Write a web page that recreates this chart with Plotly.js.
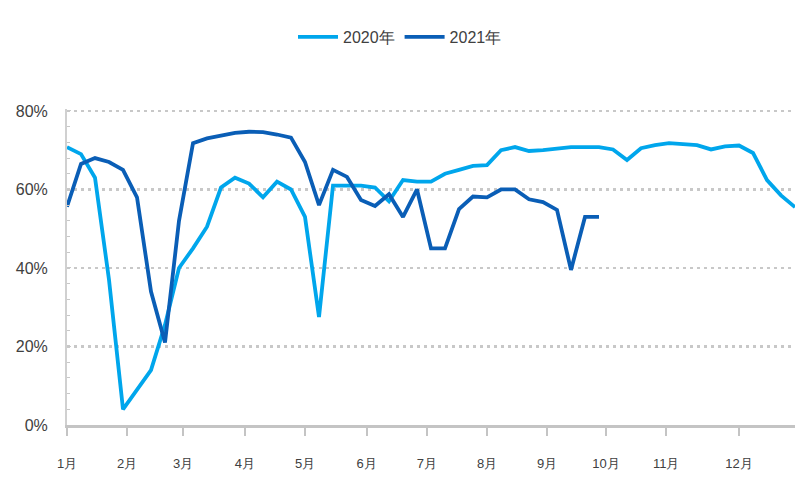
<!DOCTYPE html>
<html>
<head>
<meta charset="utf-8">
<script src="https://cdn.plot.ly/plotly-3.0.1.min.js"></script>
<style>html,body{margin:0;padding:0;background:#fff;}#chart{width:800px;height:500px;}</style>
</head>
<body>
<div id="chart"></div>
<script>
const seriesNames = ['2020年', '2021年'];
const monthLabels = ['1月','2月','3月','4月','5月','6月','7月','8月','9月','10月','11月','12月'];
const monthTickWeeks = [0, 4.3, 8.3, 12.7, 17, 21.4, 25.7, 30, 34.3, 38.5, 42.8, 48];
const rate2020 = [70.8, 69, 63, 37, 4, 9, 14, 25.5, 40, 45, 50.5, 60.5, 63, 61.5, 58, 62, 60, 53, 27.5, 61,
  61, 61, 60.5, 57, 62.4, 62, 62, 64, 65, 66, 66.2, 70, 70.8, 69.8, 70, 70.5, 70.8, 70.8, 70.8, 70.2,
  67.5, 70.5, 71.3, 71.8, 71.5, 71.3, 70.2, 71, 71.2, 69.3, 62.4, 58.5, 55.5];
const rate2021 = [55.6, 66.5, 68, 67, 65, 58, 34, 21, 52, 71.8, 73, 73.8, 74.4, 74.7, 74.6, 74, 73.2, 67, 56, 65,
  63.2, 57.3, 55.8, 58.8, 53, 60, 45, 45, 55, 58.2, 58, 60, 60, 57.5, 56.8, 54.8, 39.5, 53, 53];
const weeks2020 = rate2020.map((_, i) => i);
const weeks2021 = rate2021.map((_, i) => i);

const traces = [
  {x: weeks2020, y: rate2020, name: seriesNames[0], type: 'scatter', mode: 'lines',
   line: {color: '#00A6EC', width: 3.8}},
  {x: weeks2021, y: rate2021, name: seriesNames[1], type: 'scatter', mode: 'lines',
   line: {color: '#0A5EB6', width: 3.8}}
];

const layout = {
  width: 800, height: 500,
  margin: {l: 67, r: 5, t: 109, b: 75},
  paper_bgcolor: '#fff', plot_bgcolor: '#fff',
  font: {family: '"Liberation Sans", Arial, sans-serif', size: 14, color: '#404040'},
  showlegend: true,
  legend: {orientation: 'h', xref: 'container', yref: 'container', x: 0.5, xanchor: 'center',
           y: 0.926, yanchor: 'middle', font: {size: 16, color: '#404040'}, itemwidth: 40},
  xaxis: {
    range: [0, 52], tickmode: 'array', tickvals: monthTickWeeks, ticktext: monthLabels,
    showgrid: false, zeroline: false, showline: true, linecolor: '#c4c4c4', linewidth: 3,
    ticks: 'outside', ticklen: 8, tickcolor: '#c4c4c4', tickwidth: 2, ticklabelstandoff: 16,
    tickfont: {size: 13, color: '#404040'}
  },
  yaxis: {
    range: [0, 80.5], tickvals: [0, 20, 40, 60, 80], ticktext: ['0%', '20%', '40%', '60%', '80%'],
    showgrid: true, gridcolor: '#c8c8c8', gridwidth: 2.5, griddash: '3px,4px',
    zeroline: false, showline: true, linecolor: '#d0d0d0', linewidth: 2,
    ticks: 'inside', ticklen: 4, tickcolor: '#c8c8c8', ticklabelstandoff: 14,
    minor: {dtick: 4, ticks: 'inside', ticklen: 3, tickcolor: '#c8c8c8', showgrid: false},
    tickfont: {size: 16, color: '#404040'}
  }
};

Plotly.newPlot('chart', traces, layout, {displayModeBar: false, staticPlot: true});
</script>
</body>
</html>
